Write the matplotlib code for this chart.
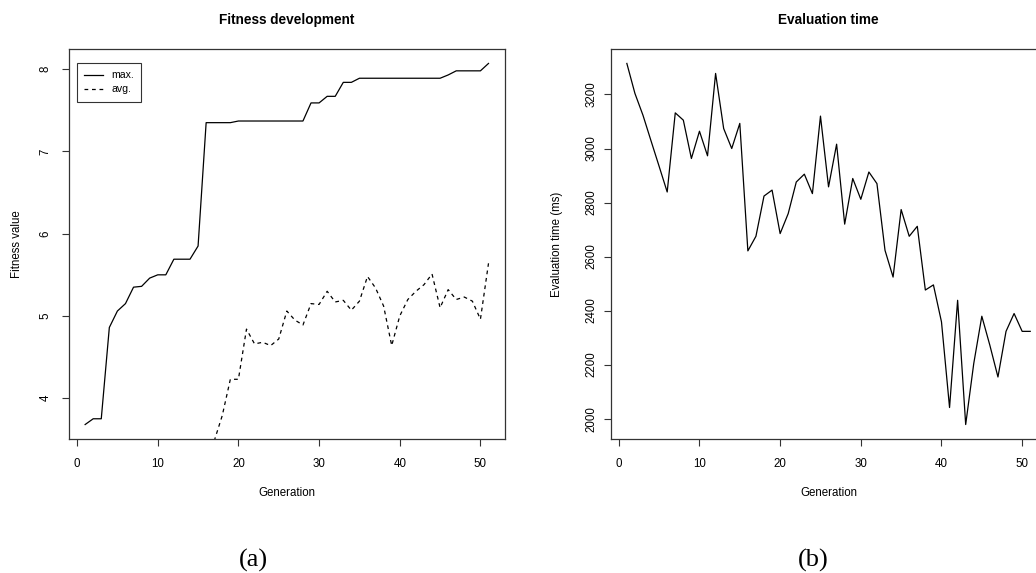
import numpy as np
import matplotlib
matplotlib.use('Agg')
import matplotlib.pyplot as plt

# Generations
generations = list(range(1, 52))

# Best fitness per generation
fitness_max = [3.68, 3.75, 3.75, 4.86, 5.06, 5.15, 5.35, 5.36, 5.46, 5.50,
               5.50, 5.69, 5.69, 5.69, 5.85, 7.35, 7.35, 7.35, 7.35, 7.37,
               7.37, 7.37, 7.37, 7.37, 7.37, 7.37, 7.37, 7.37, 7.59, 7.59,
               7.67, 7.67, 7.84, 7.84, 7.89, 7.89, 7.89, 7.89, 7.89, 7.89,
               7.89, 7.89, 7.89, 7.89, 7.89, 7.93, 7.98, 7.98, 7.98, 7.98,
               8.07]

# Average fitness per generation (first generations lie below the plot)
nan = float('nan')
fitness_avg = [nan] * 16 + [3.48, 3.79, 4.23, 4.23,
               4.84, 4.66, 4.68, 4.64, 4.72, 5.06, 4.95, 4.89, 5.15, 5.14,
               5.30, 5.17, 5.19, 5.07, 5.18, 5.48, 5.34, 5.12, 4.64, 5.00,
               5.20, 5.30, 5.38, 5.51, 5.10, 5.32, 5.20, 5.23, 5.18, 4.96,
               5.64]

# Evaluation time per generation (ms)
eval_time = [3315, 3204, 3123, 3028, 2934, 2839, 3132, 3105, 2963, 3064,
             2973, 3278, 3074, 3000, 3093, 2621, 2675, 2824, 2846, 2685,
             2759, 2876, 2905, 2833, 3120, 2858, 3016, 2720, 2889, 2812,
             2913, 2870, 2623, 2524, 2774, 2675, 2712, 2476, 2495, 2358,
             2041, 2438, 1978, 2204, 2379, 2271, 2154, 2323, 2389, 2323,
             2323]

x_ticks = [0, 10, 20, 30, 40, 50]
fit_ticks = [4, 5, 6, 7, 8]
time_ticks = [2000, 2200, 2400, 2600, 2800, 3000, 3200]

plt.rcParams['font.family'] = ['Liberation Sans', 'DejaVu Sans']

LABEL_SIZE = 8.3
TITLE_SIZE = 9.8


# R style axis range: data range plus 4% on each side
def r_range(values):
    lo, hi = np.nanmin(values), np.nanmax(values)
    pad = 0.04 * (hi - lo)
    return lo - pad, hi + pad


def style_axes(ax, ypad):
    for s in ax.spines.values():
        s.set_color('#333333')
        s.set_linewidth(0.9)
    ax.tick_params(axis='both', direction='out', length=5, width=0.8,
                   labelsize=LABEL_SIZE, color='#333333')
    ax.tick_params(axis='x', pad=8.5)
    ax.tick_params(axis='y', pad=ypad)
    for lab in ax.get_yticklabels():
        lab.set_rotation(90)
        lab.set_va('center')


fig = plt.figure(figsize=(10.36, 5.73), dpi=100)

# (a) Fitness development
ax1 = fig.add_axes([0.0666, 0.2339, 0.4205, 0.6806])
ax1.plot(generations, fitness_max, color='black', lw=0.9, label='max.')
ax1.plot(generations, fitness_avg, color='black', lw=0.9,
         dashes=(3, 3), label='avg.')
ax1.set_xlim(r_range(generations))
ax1.set_ylim(r_range(fitness_max))
ax1.set_xticks(x_ticks)
ax1.set_yticks(fit_ticks)
style_axes(ax1, ypad=7.5)
ax1.set_title('Fitness development', fontsize=TITLE_SIZE, fontweight='bold', pad=18)
ax1.set_xlabel('Generation', fontsize=LABEL_SIZE)
ax1.set_ylabel('Fitness value', fontsize=LABEL_SIZE)
ax1.xaxis.set_label_coords(0.5, -0.123)
ax1.yaxis.set_label_coords(-0.1055, 0.5)
leg = ax1.legend(loc='upper left', fontsize=7.6, frameon=True, fancybox=False,
                 handlelength=1.8, handletextpad=0.75, borderpad=0.7,
                 labelspacing=0.38, borderaxespad=0,
                 bbox_to_anchor=(0.018, 0.964))
leg.get_frame().set_edgecolor('black')
leg.get_frame().set_linewidth(0.8)

# (b) Evaluation time (right frame runs past the picture edge)
ax2 = fig.add_axes([0.5895, 0.2339, 0.4205, 0.6806])
ax2.plot(generations, eval_time, color='black', lw=0.9)
ax2.set_xlim(r_range(generations))
ax2.set_ylim(r_range(eval_time))
ax2.set_xticks(x_ticks)
ax2.set_yticks(time_ticks)
style_axes(ax2, ypad=4.5)
ax2.set_title('Evaluation time', fontsize=TITLE_SIZE, fontweight='bold', pad=18)
ax2.set_xlabel('Generation', fontsize=LABEL_SIZE)
ax2.set_ylabel('Evaluation time (ms)', fontsize=LABEL_SIZE)
ax2.xaxis.set_label_coords(0.5, -0.123)
ax2.yaxis.set_label_coords(-0.11, 0.5)

# Panel captions
fig.text(253 / 1036, 1 - 560 / 573, '(a)', ha='center', va='center',
         fontsize=19, family='Liberation Serif')
fig.text(813 / 1036, 1 - 560 / 573, '(b)', ha='center', va='center',
         fontsize=19, family='Liberation Serif')

fig.savefig('out.png', dpi=100)
